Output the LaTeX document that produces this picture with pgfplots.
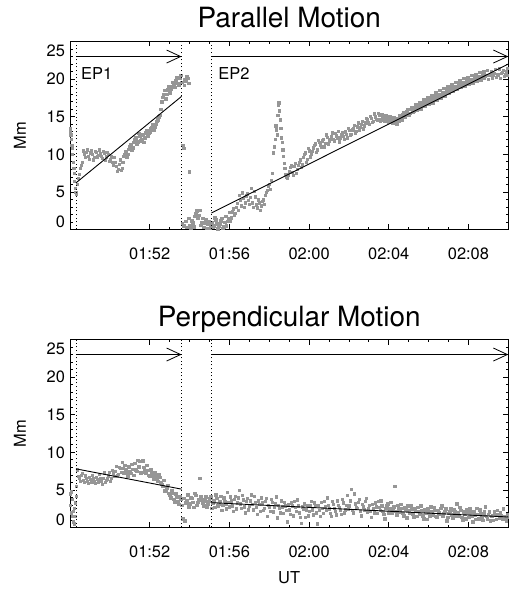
\documentclass[border=0pt]{standalone}
\usepackage{fontspec}
\setmainfont{TeX Gyre Heros}
\usepackage{pgfplots}
\usepackage{pgfplotstable}
\pgfplotsset{compat=1.18}
\usetikzlibrary{arrows.meta}
\definecolor{dotgray}{RGB}{150,150,150}

\pgfplotstableread{
t d
48.0 13.5
48.03 12.6
48.05 12.0
48.08 11.2
48.1 10.8
48.15 9.0
48.2 7.5
48.25 5.5
48.3 4.8
48.4 6.8
48.5 8.2
48.6 9.0
48.7 10.1
48.8 10.3
48.9 9.8
49.0 10.2
49.1 10.0
49.2 9.6
49.3 10.3
49.4 9.9
49.5 10.1
49.6 9.5
49.7 10.2
49.8 9.7
49.9 10.0
50.0 9.4
50.1 9.0
50.2 9.6
50.3 8.4
50.4 8.0
50.5 9.3
50.6 8.2
50.7 9.8
50.8 10.4
50.9 10.0
51.0 11.0
51.1 10.6
51.2 11.6
51.3 12.2
51.4 11.7
51.5 12.5
51.6 12.0
51.7 11.6
51.8 12.9
51.9 12.4
52.0 13.0
52.1 13.6
52.2 13.2
52.3 14.0
52.4 14.6
52.5 15.2
52.6 17.0
52.7 18.0
52.8 17.4
52.9 18.6
53.0 18.2
53.1 19.0
53.2 19.4
53.3 19.8
53.4 19.5
53.5 20.2
53.6 19.6
53.65 11.2
53.7 10.8
53.75 20.0
53.8 19.7
53.9 20.1
53.97 7.7
53.62 0.8
53.7 0.5
53.8 1.1
54.0 0.6
54.1 1.2
54.2 0.4
54.3 2.2
54.4 1.6
54.5 2.6
54.6 1.0
54.7 0.3
54.8 1.4
54.9 0.8
55.0 0.2
55.1 1.0
55.2 0.5
55.3 1.3
55.4 0.1
55.5 0.7
55.6 1.5
55.7 0.4
55.8 1.8
55.9 1.1
56.0 2.3
56.1 1.6
56.2 2.8
56.3 2.2
56.4 3.5
56.5 4.6
56.6 3.2
56.7 4.2
56.8 3.6
56.9 4.8
57.0 3.4
57.1 5.5
57.2 3.0
57.3 4.4
57.4 2.9
57.5 3.6
57.6 3.2
57.7 4.0
57.8 4.6
57.9 5.2
58.0 6.0
58.1 6.6
58.2 10.2
58.3 12.0
58.35 13.3
58.4 12.6
58.45 16.6
58.5 15.8
58.55 14.6
58.6 12.2
58.65 11.6
58.7 9.8
58.75 8.8
58.8 7.4
58.9 6.8
59.0 7.8
59.1 8.5
59.2 7.2
59.3 8.8
59.4 8.0
59.5 9.0
59.6 8.3
59.7 9.6
59.8 10.2
59.9 9.4
60.0 10.5
60.1 10.0
60.2 10.9
60.3 11.4
60.4 10.6
60.5 11.6
60.6 11.0
60.7 12.0
60.8 11.5
60.9 12.3
61.0 11.8
61.1 12.4
61.2 12.0
61.3 12.8
61.4 12.2
61.5 11.7
61.6 12.6
61.7 12.4
61.8 13.0
61.9 12.2
62.0 13.2
62.1 12.7
62.2 13.4
62.3 12.9
62.4 13.7
62.5 13.2
62.6 14.0
62.7 13.4
62.8 14.2
62.9 14.6
63.0 14.0
63.1 14.8
63.2 14.4
63.3 15.0
63.4 14.6
63.5 15.2
63.6 14.7
63.7 15.0
63.8 14.5
63.9 14.9
64.0 14.3
64.1 14.8
64.2 14.2
64.3 14.6
64.4 14.0
64.5 14.5
64.6 14.8
64.7 15.3
64.8 15.0
64.9 15.7
65.0 15.3
65.1 16.0
65.2 15.6
65.3 16.3
65.4 15.9
65.5 16.6
65.6 16.1
65.7 16.9
65.8 16.4
65.9 17.2
66.0 16.7
66.1 17.4
66.2 16.9
66.3 17.7
66.4 17.2
66.5 18.0
66.6 17.5
66.7 18.3
66.8 17.8
66.9 18.6
67.0 18.1
67.1 18.9
67.2 18.4
67.3 19.1
67.4 18.7
67.5 19.3
67.6 18.9
67.7 19.6
67.8 19.1
67.9 19.8
68.0 19.3
68.1 20.0
68.2 19.5
68.3 20.2
68.4 19.8
68.5 20.4
68.6 19.9
68.7 20.6
68.8 20.1
68.9 20.5
69.0 20.0
69.1 20.7
69.2 20.2
69.3 20.8
69.4 20.3
69.5 20.6
69.6 20.1
69.7 20.9
69.8 20.4
69.9 21.0
70.0 20.5
}\partab

\pgfplotstableread{
t d
48.02 13.0
48.12 10.0
48.18 8.2
48.22 6.4
48.28 5.0
48.35 6.0
48.45 7.4
48.55 8.6
48.65 10.5
48.75 9.6
48.85 10.6
48.95 9.4
49.05 10.5
49.15 9.3
49.25 10.4
49.35 9.7
49.45 10.6
49.55 9.8
49.65 10.4
49.75 9.2
49.85 10.3
49.95 9.1
50.05 9.7
50.15 8.6
50.25 9.0
50.35 7.8
50.45 8.7
50.55 7.9
50.65 9.0
50.75 10.0
50.85 9.6
50.95 10.7
51.05 11.3
51.15 10.9
51.25 12.0
51.35 11.4
51.45 12.8
51.55 11.8
51.65 12.6
51.75 12.2
51.85 13.2
51.95 12.8
52.05 13.5
52.15 14.0
52.25 13.6
52.35 14.4
52.45 15.0
52.55 16.0
52.65 17.6
52.75 18.5
52.85 18.0
52.95 19.0
53.05 18.7
53.15 19.6
53.25 18.9
53.35 20.3
53.45 19.2
53.55 20.5
53.72 19.2
53.85 20.4
53.95 19.5
53.85 0.3
53.95 1.5
54.05 0.2
54.15 0.9
54.25 1.8
54.35 2.5
54.45 1.9
54.55 0.6
54.65 1.5
54.75 0.9
54.85 0.2
54.95 1.1
55.05 0.6
55.15 0.3
55.25 1.6
55.35 0.8
55.45 0.5
55.55 1.2
55.65 0.2
55.75 1.0
55.85 0.5
55.95 1.5
56.05 1.2
56.15 2.4
56.25 1.9
56.35 3.0
56.45 2.6
56.55 3.9
56.65 4.9
56.75 3.0
56.85 4.5
56.95 3.9
57.05 4.3
57.15 3.6
57.25 5.1
57.35 3.3
57.45 4.0
57.55 2.6
57.65 3.8
57.75 3.4
57.85 5.0
57.95 5.8
58.05 5.4
58.15 7.5
58.25 11.0
58.32 13.8
58.42 15.2
58.48 16.9
58.58 13.5
58.68 10.6
58.78 8.2
58.85 7.0
58.95 7.3
59.05 8.3
59.15 7.6
59.25 8.4
59.35 7.5
59.45 8.6
59.55 9.3
59.65 8.7
59.75 10.0
59.85 9.0
59.95 10.8
60.05 9.7
60.15 10.4
60.25 11.2
60.35 10.3
60.45 11.9
60.55 11.3
60.65 11.8
60.75 11.0
60.85 12.6
60.95 11.4
61.05 12.0
61.15 12.9
61.25 11.8
61.35 12.5
61.45 13.1
61.55 12.2
61.65 12.9
61.75 12.0
61.85 12.7
61.95 13.5
62.05 12.6
62.15 13.3
62.25 13.9
62.35 13.1
62.45 14.2
62.55 13.6
62.65 14.4
62.75 13.8
62.85 14.8
62.95 14.2
63.05 15.1
63.15 14.3
63.25 15.4
63.35 14.7
63.45 15.5
63.55 14.4
63.65 15.3
63.75 14.6
63.85 15.2
63.95 14.5
64.05 15.0
64.15 14.4
64.25 14.9
64.35 14.3
64.45 14.8
64.55 15.2
64.65 14.6
64.75 15.6
64.85 15.2
64.95 16.0
65.05 15.5
65.15 16.3
65.25 15.8
65.35 16.7
65.45 16.2
65.55 16.9
65.65 16.4
65.75 17.3
65.85 16.8
65.95 17.6
66.05 17.1
66.15 17.9
66.25 17.3
66.35 18.2
66.45 17.6
66.55 18.5
66.65 17.9
66.75 18.8
66.85 18.2
66.95 19.1
67.05 18.5
67.15 19.3
67.25 18.8
67.35 19.6
67.45 19.1
67.55 19.8
67.65 19.3
67.75 20.1
67.85 19.5
67.95 20.3
68.05 19.7
68.15 20.5
68.25 19.9
68.35 20.7
68.45 20.1
68.55 20.9
68.65 20.3
68.75 21.0
68.85 20.4
68.95 21.2
69.05 20.5
69.15 21.1
69.25 20.6
69.35 21.3
69.45 20.7
69.55 21.4
69.65 20.8
69.75 21.2
69.85 20.6
69.95 21.5
}\partabb

\pgfplotstableread{
t d
48.0 4.5
48.05 2.0
48.1 3.8
48.15 0.8
48.2 2.6
48.25 1.5
48.3 4.2
48.35 7.7
48.4 6.8
48.5 6.2
48.6 7.2
48.7 6.0
48.8 6.6
48.9 5.9
49.0 6.4
49.1 7.0
49.2 6.1
49.3 6.7
49.4 6.0
49.5 6.5
49.6 5.8
49.7 7.3
49.8 6.3
49.9 6.9
50.0 6.2
50.1 7.6
50.2 6.8
50.3 8.2
50.4 7.1
50.5 7.9
50.6 8.7
50.7 7.3
50.8 7.8
50.9 6.9
51.0 7.5
51.1 8.4
51.2 7.0
51.3 7.7
51.4 9.0
51.5 8.8
51.6 7.4
51.7 8.0
51.8 7.2
51.9 7.6
52.0 6.9
52.1 7.4
52.2 6.5
52.3 7.0
52.4 6.2
52.5 6.7
52.6 5.8
52.7 6.3
52.8 5.0
52.9 5.6
53.0 4.4
53.1 4.9
53.2 3.8
53.3 4.5
53.4 3.5
53.5 4.2
53.6 3.0
53.65 1.2
53.7 3.9
53.75 0.9
53.8 3.3
53.9 4.4
54.0 3.2
54.1 3.9
54.2 2.7
54.3 4.3
54.4 3.4
54.5 6.6
54.6 3.8
54.7 2.9
54.8 4.1
54.9 3.2
55.0 3.9
55.1 2.6
55.2 3.6
55.3 4.4
55.4 2.9
55.5 3.5
55.6 2.3
55.7 4.0
55.8 3.1
55.9 4.7
56.0 2.8
56.1 3.6
56.2 2.2
56.3 4.2
56.4 3.3
56.5 5.0
56.6 2.6
56.7 3.7
56.8 2.0
56.9 3.9
57.0 2.9
57.1 4.4
57.2 2.4
57.3 3.4
57.4 1.8
57.5 3.1
57.6 4.0
57.7 2.3
57.8 3.5
57.9 1.5
58.0 2.8
58.1 3.8
58.2 2.1
58.3 3.2
58.4 1.3
58.5 2.6
58.6 3.6
58.7 1.9
58.8 2.9
58.9 0.8
59.0 2.4
59.1 3.3
59.2 1.6
59.3 2.7
59.4 3.7
59.5 2.0
59.6 0.6
59.7 2.5
59.8 1.4
59.9 3.0
60.0 2.2
60.1 3.5
60.2 1.7
60.3 2.9
60.4 0.5
60.5 2.3
60.6 3.4
60.7 1.9
60.8 2.8
60.9 4.0
61.0 2.5
61.1 1.5
61.2 3.1
61.3 2.2
61.4 3.6
61.5 2.7
61.6 1.8
61.7 3.3
61.8 2.4
61.9 4.3
62.0 2.9
62.1 5.1
62.2 2.0
62.3 3.2
62.4 2.6
62.5 3.8
62.6 1.6
62.7 2.8
62.8 3.5
62.9 2.1
63.0 3.0
63.1 1.4
63.2 2.5
63.3 3.3
63.4 1.9
63.5 2.7
63.6 3.6
63.7 2.2
63.8 1.2
63.9 2.9
64.0 2.0
64.1 3.4
64.2 2.4
64.3 5.5
64.4 1.7
64.5 2.6
64.6 3.1
64.7 1.9
64.8 2.7
64.9 1.3
65.0 2.3
65.1 3.0
65.2 1.8
65.3 2.5
65.4 1.5
65.5 2.2
65.6 2.9
65.7 1.6
65.8 2.4
65.9 1.1
66.0 2.1
66.1 2.8
66.2 1.7
66.3 2.3
66.4 1.4
66.5 2.0
66.6 2.6
66.7 1.5
66.8 2.2
66.9 0.9
67.0 1.9
67.1 2.5
67.2 1.3
67.3 2.1
67.4 3.2
67.5 1.6
67.6 2.3
67.7 1.0
67.8 1.8
67.9 2.4
68.0 1.4
68.1 2.0
68.2 0.8
68.3 1.7
68.4 2.6
68.5 1.2
68.6 1.9
68.7 1.0
68.8 2.2
68.9 1.5
69.0 1.8
69.1 0.9
69.2 1.6
69.3 2.1
69.4 1.1
69.5 1.7
69.6 2.0
69.7 1.2
69.8 1.5
69.9 0.9
70.0 1.4
}\perptab

\pgfplotstableread{
t d
48.02 3.0
48.07 4.8
48.12 1.5
48.17 2.2
48.22 0.5
48.27 3.3
48.32 5.5
48.45 6.6
48.55 7.0
48.65 6.3
48.75 6.9
48.85 6.2
48.95 6.7
49.05 6.0
49.15 6.5
49.25 5.9
49.35 6.4
49.45 7.1
49.55 6.2
49.65 6.6
49.75 6.0
49.85 6.5
49.95 7.4
50.05 6.6
50.15 7.2
50.25 7.5
50.35 6.9
50.45 8.0
50.55 7.4
50.65 7.9
50.75 8.3
50.85 7.4
50.95 8.1
51.05 7.2
51.15 7.8
51.25 8.6
51.35 7.5
51.45 8.1
51.55 7.3
51.65 8.9
51.75 7.6
51.85 8.3
51.95 7.0
52.05 7.8
52.15 6.9
52.25 7.4
52.35 6.6
52.45 7.1
52.55 6.0
52.65 5.5
52.75 4.9
52.85 5.3
52.95 4.6
53.05 4.0
53.15 4.6
53.25 3.4
53.35 4.1
53.45 3.1
53.55 3.8
53.85 3.6
53.95 2.8
54.05 4.0
54.15 3.4
54.25 4.6
54.35 3.0
54.45 3.7
54.55 4.2
54.65 3.3
54.75 3.6
54.85 2.7
54.95 3.5
55.05 4.1
55.15 3.3
55.25 2.7
55.35 3.9
55.45 3.2
55.55 4.2
55.65 3.0
55.75 3.5
55.85 2.5
55.95 3.4
56.05 4.1
56.15 2.9
56.25 3.8
56.35 2.5
56.45 4.0
56.55 3.2
56.65 4.3
56.75 2.8
56.85 3.5
56.95 2.4
57.05 3.6
57.15 3.1
57.25 4.2
57.35 2.7
57.45 3.6
57.55 2.2
57.65 3.3
57.75 2.6
57.85 3.9
57.95 3.0
58.05 2.2
58.15 3.4
58.25 2.7
58.35 4.1
58.45 3.0
58.55 2.0
58.65 2.8
58.75 3.4
58.85 2.3
58.95 3.1
59.05 1.8
59.15 2.9
59.25 3.5
59.35 2.2
59.45 2.9
59.55 1.4
59.65 2.8
59.75 3.2
59.85 2.4
59.95 1.6
60.05 2.9
60.15 2.4
60.25 3.3
60.35 2.0
60.45 3.0
60.55 1.5
60.65 2.6
60.75 3.5
60.85 2.3
60.95 3.0
61.05 1.9
61.15 3.5
61.25 2.6
61.35 1.7
61.45 3.0
61.55 2.3
61.65 3.8
61.75 2.0
61.85 3.0
61.95 2.5
62.05 3.6
62.15 2.3
62.25 4.5
62.35 2.7
62.45 3.4
62.55 2.2
62.65 3.1
62.75 2.4
62.85 3.9
62.95 2.6
63.05 2.2
63.15 3.1
63.25 2.0
63.35 2.8
63.45 3.5
63.55 2.3
63.65 2.9
63.75 1.8
63.85 2.6
63.95 3.2
64.05 2.5
64.15 1.9
64.25 2.8
64.35 2.2
64.45 3.0
64.55 2.1
64.65 2.6
64.75 1.6
64.85 2.4
64.95 2.9
65.05 1.9
65.15 2.5
65.25 1.4
65.35 2.2
65.45 2.7
65.55 1.8
65.65 2.3
65.75 1.2
65.85 2.0
65.95 2.6
66.05 1.6
66.15 2.1
66.25 2.7
66.35 1.5
66.45 2.3
66.55 1.8
66.65 2.9
66.75 1.9
66.85 2.5
66.95 1.4
67.05 2.2
67.15 1.7
67.25 2.4
67.35 1.5
67.45 2.0
67.55 2.7
67.65 1.4
67.75 2.1
67.85 1.2
67.95 1.9
68.05 2.5
68.15 1.5
68.25 2.2
68.35 1.1
68.45 1.8
68.55 2.4
68.65 1.3
68.75 1.7
68.85 2.8
68.95 1.2
69.05 2.1
69.15 1.5
69.25 1.0
69.35 1.8
69.45 2.3
69.55 1.3
69.65 1.6
69.75 2.5
69.85 1.2
69.95 1.8
}\perptabb

\newcommand{\lblfont}{\fontsize{16.5}{19}\selectfont}

\tikzset{
  vdot/.style={black, line width=0.9bp, dash pattern=on 1bp off 2.6bp},
  arr/.style={black, line width=0.8bp, -{Straight Barb[length=14bp, width=13bp, line width=0.8bp]}},
}

\pgfplotsset{
  ep/.style={
    scale only axis, width=438.3bp, height=188bp,
    xmin=48, xmax=70, ymin=0, ymax=25,
    clip mode=individual,
    xtick={52,56,60,64,68},
    xticklabels={01:52,01:56,02:00,02:04,02:08},
    minor x tick num=3,
    ytick={0,5,10,15,20,25},
    yticklabels={,5,10,15,20,},
    minor y tick num=4,
    tick align=inside,
    major tick length=5bp, minor tick length=2.5bp,
    xtick pos=both, ytick pos=both,
    ticklabel style={font=\lblfont},
    /pgf/number format/assume math mode=true,
    xticklabel style={anchor=base, yshift=-30bp},
    yticklabel style={anchor=east, xshift=-1.5bp},
    axis line style={line width=0.9bp},
    every tick/.style={black, line width=0.7bp},
    every axis y label/.style={at={(axis description cs:-0.1004,0.5)}, anchor=base, rotate=90, font=\lblfont},
    ylabel={Mm},
  },
  pts/.style={only marks, mark=square*, mark size=1.2bp, color=dotgray, mark options={draw=dotgray, fill=dotgray, line width=0.2bp}},
  fit/.style={black, line width=0.9bp, no marks},
}

\begin{document}
\begin{tikzpicture}
\path[use as bounding box] (0,0) rectangle (509bp,592bp);

\node[font=\fontsize{28}{32}\selectfont, anchor=base] at (289.2bp,564bp) {Parallel Motion};
\node[font=\fontsize{28}{32}\selectfont, anchor=base] at (289.2bp,265bp) {Perpendicular Motion};
\node[font=\lblfont, anchor=base] at (289.2bp,9bp) {UT};

\begin{axis}[ep, at={(70bp,362.5bp)}, anchor=south west]
\addplot[pts] table[x=t, y=d] {\partab};
\addplot[pts] table[x=t, y=d] {\partabb};
\addplot[fit] coordinates {(48.3,6.2) (53.6,17.7)};
\addplot[fit] coordinates {(55.1,2.2) (70,22.0)};
\draw[vdot] (axis cs:48.3,0) -- (axis cs:48.3,25);
\draw[vdot] (axis cs:53.6,0) -- (axis cs:53.6,25);
\draw[vdot] (axis cs:55.1,0) -- (axis cs:55.1,25);
\draw[arr] (axis cs:48.3,23) -- (axis cs:53.6,23);
\draw[arr] (axis cs:55.1,23) -- (axis cs:70,23);
\node[font=\lblfont] at (axis cs:49.34,20.7) {EP1};
\node[font=\lblfont] at (axis cs:56.23,20.7) {EP2};
\node[font=\lblfont, anchor=east, xshift=-1.5bp] at (axis cs:48,1.07) {0};
\node[font=\lblfont, anchor=east, xshift=-1.5bp] at (axis cs:48,23.8) {25};
\end{axis}

\begin{axis}[ep, at={(70bp,64.5bp)}, anchor=south west]
\addplot[pts] table[x=t, y=d] {\perptab};
\addplot[pts] table[x=t, y=d] {\perptabb};
\addplot[fit] coordinates {(48.3,7.8) (53.6,5.1)};
\addplot[fit] coordinates {(55.1,3.3) (70,1.4)};
\draw[vdot] (axis cs:48.3,0) -- (axis cs:48.3,25);
\draw[vdot] (axis cs:53.6,0) -- (axis cs:53.6,25);
\draw[vdot] (axis cs:55.1,0) -- (axis cs:55.1,25);
\draw[arr] (axis cs:48.3,23) -- (axis cs:53.6,23);
\draw[arr] (axis cs:55.1,23) -- (axis cs:70,23);
\node[font=\lblfont, anchor=east, xshift=-1.5bp] at (axis cs:48,1.07) {0};
\node[font=\lblfont, anchor=east, xshift=-1.5bp] at (axis cs:48,23.8) {25};
\end{axis}
\end{tikzpicture}
\end{document}
